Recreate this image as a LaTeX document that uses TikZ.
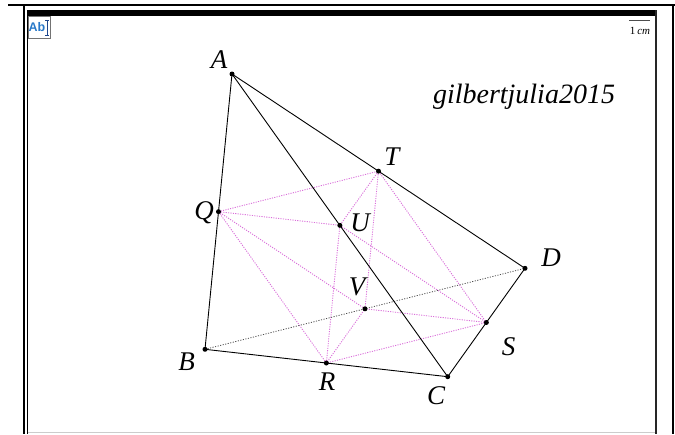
\documentclass[tikz,border=0pt]{standalone}
\usepackage{fontspec}
\usetikzlibrary{calc}
\setmainfont{Liberation Serif}
\setsansfont{Liberation Sans}
\definecolor{mag}{RGB}{218,110,218}
\definecolor{abblue}{RGB}{40,120,200}
\definecolor{curblue}{RGB}{30,70,140}
\begin{document}
\begin{tikzpicture}[x=1pt,y=-1pt,
  side/.style={line width=0.9pt, black},
  midseg/.style={line width=0.9pt, mag, dash pattern=on 1.1pt off 1.3pt},
  diagseg/.style={line width=0.8pt, black!70, dash pattern=on 1.1pt off 1.5pt},
  dot/.style={circle, fill=black, inner sep=0pt, minimum size=5pt},
  lab/.style={font=\fontsize{27}{27}\selectfont\itshape, inner sep=0pt}]
\useasboundingbox (0,0) rectangle (675,434);
% frame
\draw[line width=2pt] (8,5) -- (675,5);
\draw[line width=1.4pt] (24,5) -- (24,434);
\draw[line width=1.4pt] (27.5,10) -- (27.5,434);
\fill (27,10) rectangle (657,15.5);
\draw[line width=2pt, black!85] (656,10) -- (656,434);
\draw[line width=2.5pt] (673,5) -- (673,434);
\draw[black!20, line width=0.8pt] (28,432) -- (655,432);
% Ab icon
\draw[black!55, line width=0.6pt] (28.5,16.5) rectangle (50.5,38);
\node[font=\sffamily\bfseries\fontsize{12.5}{12.5}\selectfont, text=abblue, inner sep=0pt] (ab) at (37,27.5) {Ab};
\draw[curblue, line width=0.9pt] (47,20) -- (47,35);
\draw[curblue, line width=0.7pt] (45,20) -- (49,20) (45,35) -- (49,35);
% scale
\draw[black!70, line width=0.7pt] (629,20) -- (650,20);
\node[font=\fontsize{11}{11}\selectfont, inner sep=0pt] (scale) at (640,31) {1\,\textit{cm}};
% points
\coordinate (A) at (232,74);
\coordinate (B) at (205,349.3);
\coordinate (C) at (447.7,376.7);
\coordinate (D) at (525,268.3);
\coordinate (Q) at ($(A)!0.5!(B)$);
\coordinate (R) at ($(B)!0.5!(C)$);
\coordinate (S) at ($(C)!0.5!(D)$);
\coordinate (T) at ($(D)!0.5!(A)$);
\coordinate (U) at ($(A)!0.5!(C)$);
\coordinate (V) at ($(B)!0.5!(D)$);
% magenta dotted segments
\draw[midseg] (Q) -- (R) -- (S) -- (T) -- (Q);
\draw[midseg] (Q) -- (U) -- (S) -- (V) -- (Q);
\draw[midseg] (T) -- (U) -- (R) -- (V) -- (T);
% diagonal BD
\draw[diagseg] (B) -- (D);
% sides
\draw[side] (A) -- (B) -- (C) -- (D) -- (A);
\draw[side] (A) -- (C);
% dots
\foreach \p in {A,B,C,D,Q,R,S,T,U,V} \node[dot] (d\p) at (\p) {};
% labels
\node[lab] (lA) at (219,60) {A};
\node[lab] (lB) at (186.5,361.5) {B};
\node[lab] (lC) at (436,396) {C};
\node[lab] (lD) at (551,257.5) {D};
\node[lab] (lQ) at (204,212.5) {Q};
\node[lab] (lR) at (327,382) {R};
\node[lab] (lS) at (508.5,346.5) {S};
\node[lab] (lT) at (392,156.5) {T};
\node[lab] (lU) at (360,223) {U};
\node[lab] (lV) at (357,286.5) {V};
\node[font=\fontsize{28}{28}\selectfont\itshape, inner sep=0pt] (sig) at (524,97) {gilbertjulia2015};
\end{tikzpicture}
\end{document}
